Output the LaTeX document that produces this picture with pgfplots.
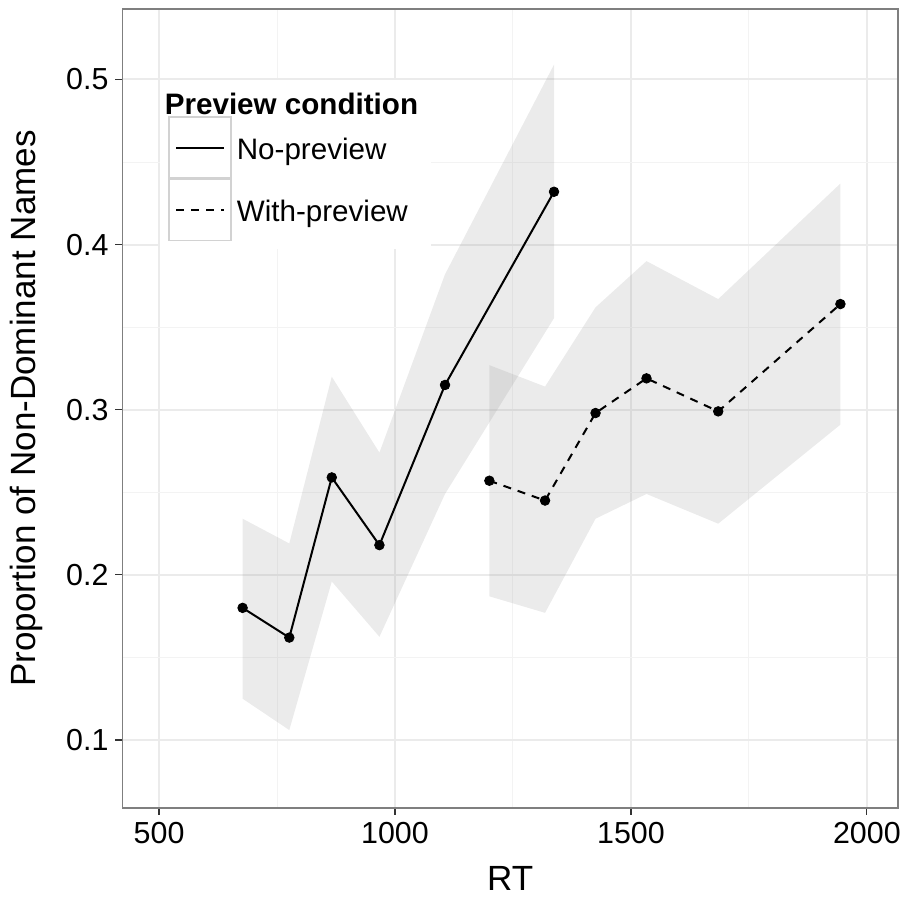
\documentclass[border=0pt]{standalone}
\usepackage{fontspec}
\setmainfont{Liberation Sans}
\usepackage{pgfplots}
\pgfplotsset{compat=1.18}
\definecolor{gridmaj}{RGB}{235,235,235}
\definecolor{gridmin}{RGB}{243,243,243}
\definecolor{ribbon}{RGB}{153,153,153}
\definecolor{border}{RGB}{127,127,127}
\definecolor{keybox}{RGB}{210,210,210}
\begin{document}
\begin{tikzpicture}
\begin{axis}[
  name=ax,
  scale only axis,
  width=387.75pt, height=399.5pt,
  xmin=422.5, xmax=2066,
  ymin=0.0588, ymax=0.5427,
  xtick={500,1000,1500,2000},
  ytick={0.1,0.2,0.3,0.4,0.5},
  minor xtick={750,1250,1750},
  minor ytick={0.15,0.25,0.35,0.45},
  grid=both,
  major grid style={draw=gridmaj, line width=1pt},
  minor grid style={draw=gridmin, line width=0.5pt},
  minor tick length=0pt,
  major tick length=3.5pt,
  tick align=outside,
  tick pos=left,
  tick style={draw=black!80, line width=0.6pt},
  axis line style={draw=border, line width=0.7pt},
  /pgf/number format/assume math mode=true,
  /pgf/number format/1000 sep={},
  xticklabel style={font=\fontsize{15.2}{16}\selectfont},
  yticklabel style={font=\fontsize{15.2}{16}\selectfont, /pgf/number format/fixed, /pgf/number format/precision=1, /pgf/number format/fixed zerofill},
  scaled y ticks=false,
  scaled x ticks=false,
  xlabel={RT},
  ylabel={Proportion of Non-Dominant Names},
  label style={font=\fontsize{17.5}{20}\selectfont},
  xlabel shift=4.5pt,
  ylabel shift=5pt,
  legend cell align=left,
  legend style={
    at={(rel axis cs:0.0484,0.9118)}, anchor=north west,
    draw=none, fill=white, inner sep=4pt,
    row sep=0pt, column sep=0pt,
    font=\fontsize{14.8}{16}\selectfont,
    nodes={inner xsep=2.5pt, inner ysep=2.5pt},
  },
  keybox/.style={
    legend image code/.code={
      \draw[solid, draw=keybox, line width=0.7pt, fill=white] (0pt,-14pt) rectangle (31pt,16.5pt);
      \draw[##1, mark=none] (3.5pt,1.25pt) -- (27.5pt,1.25pt);
    }
  },
]
\addlegendimage{empty legend}
\addlegendentry{\hspace*{-36pt}\raisebox{-3pt}{\textbf{Preview condition}}}

% ribbons
\addplot[draw=none, fill=ribbon, fill opacity=0.2, forget plot] coordinates {
  (677,0.234) (776,0.219) (866,0.320) (967,0.274) (1106,0.382) (1337,0.509)
  (1337,0.3555) (1106,0.249) (967,0.1625) (866,0.196) (776,0.106) (677,0.125)
} -- cycle;
\addplot[draw=none, fill=ribbon, fill opacity=0.2, forget plot] coordinates {
  (1200,0.327) (1318,0.314) (1425,0.362) (1533,0.390) (1685,0.367) (1944,0.437)
  (1944,0.291) (1685,0.231) (1533,0.249) (1425,0.234) (1318,0.177) (1200,0.187)
} -- cycle;

% lines
\addplot[black, line width=1pt, solid, keybox] coordinates {
  (677,0.180) (776,0.162) (866,0.259) (967,0.218) (1106,0.315) (1337,0.432)
};
\addlegendentry{No-preview}
\addplot[black, line width=1pt, dash pattern=on 4pt off 3.5pt, keybox] coordinates {
  (1200,0.257) (1318,0.245) (1425,0.298) (1533,0.319) (1685,0.299) (1944,0.364)
};
\addlegendentry{With-preview}

% points
\addplot[only marks, mark=*, mark size=2.4pt, black, forget plot] coordinates {
  (677,0.180) (776,0.162) (866,0.259) (967,0.218) (1106,0.315) (1337,0.432)
};
\addplot[only marks, mark=*, mark size=2.4pt, black, forget plot] coordinates {
  (1200,0.257) (1318,0.245) (1425,0.298) (1533,0.319) (1685,0.299) (1944,0.364)
};
\end{axis}
\pgfresetboundingbox
\useasboundingbox ([shift={(-61.25pt,-47pt)}]ax.south west) rectangle ([shift={(3pt,4.5pt)}]ax.north east);
\end{tikzpicture}
\end{document}
